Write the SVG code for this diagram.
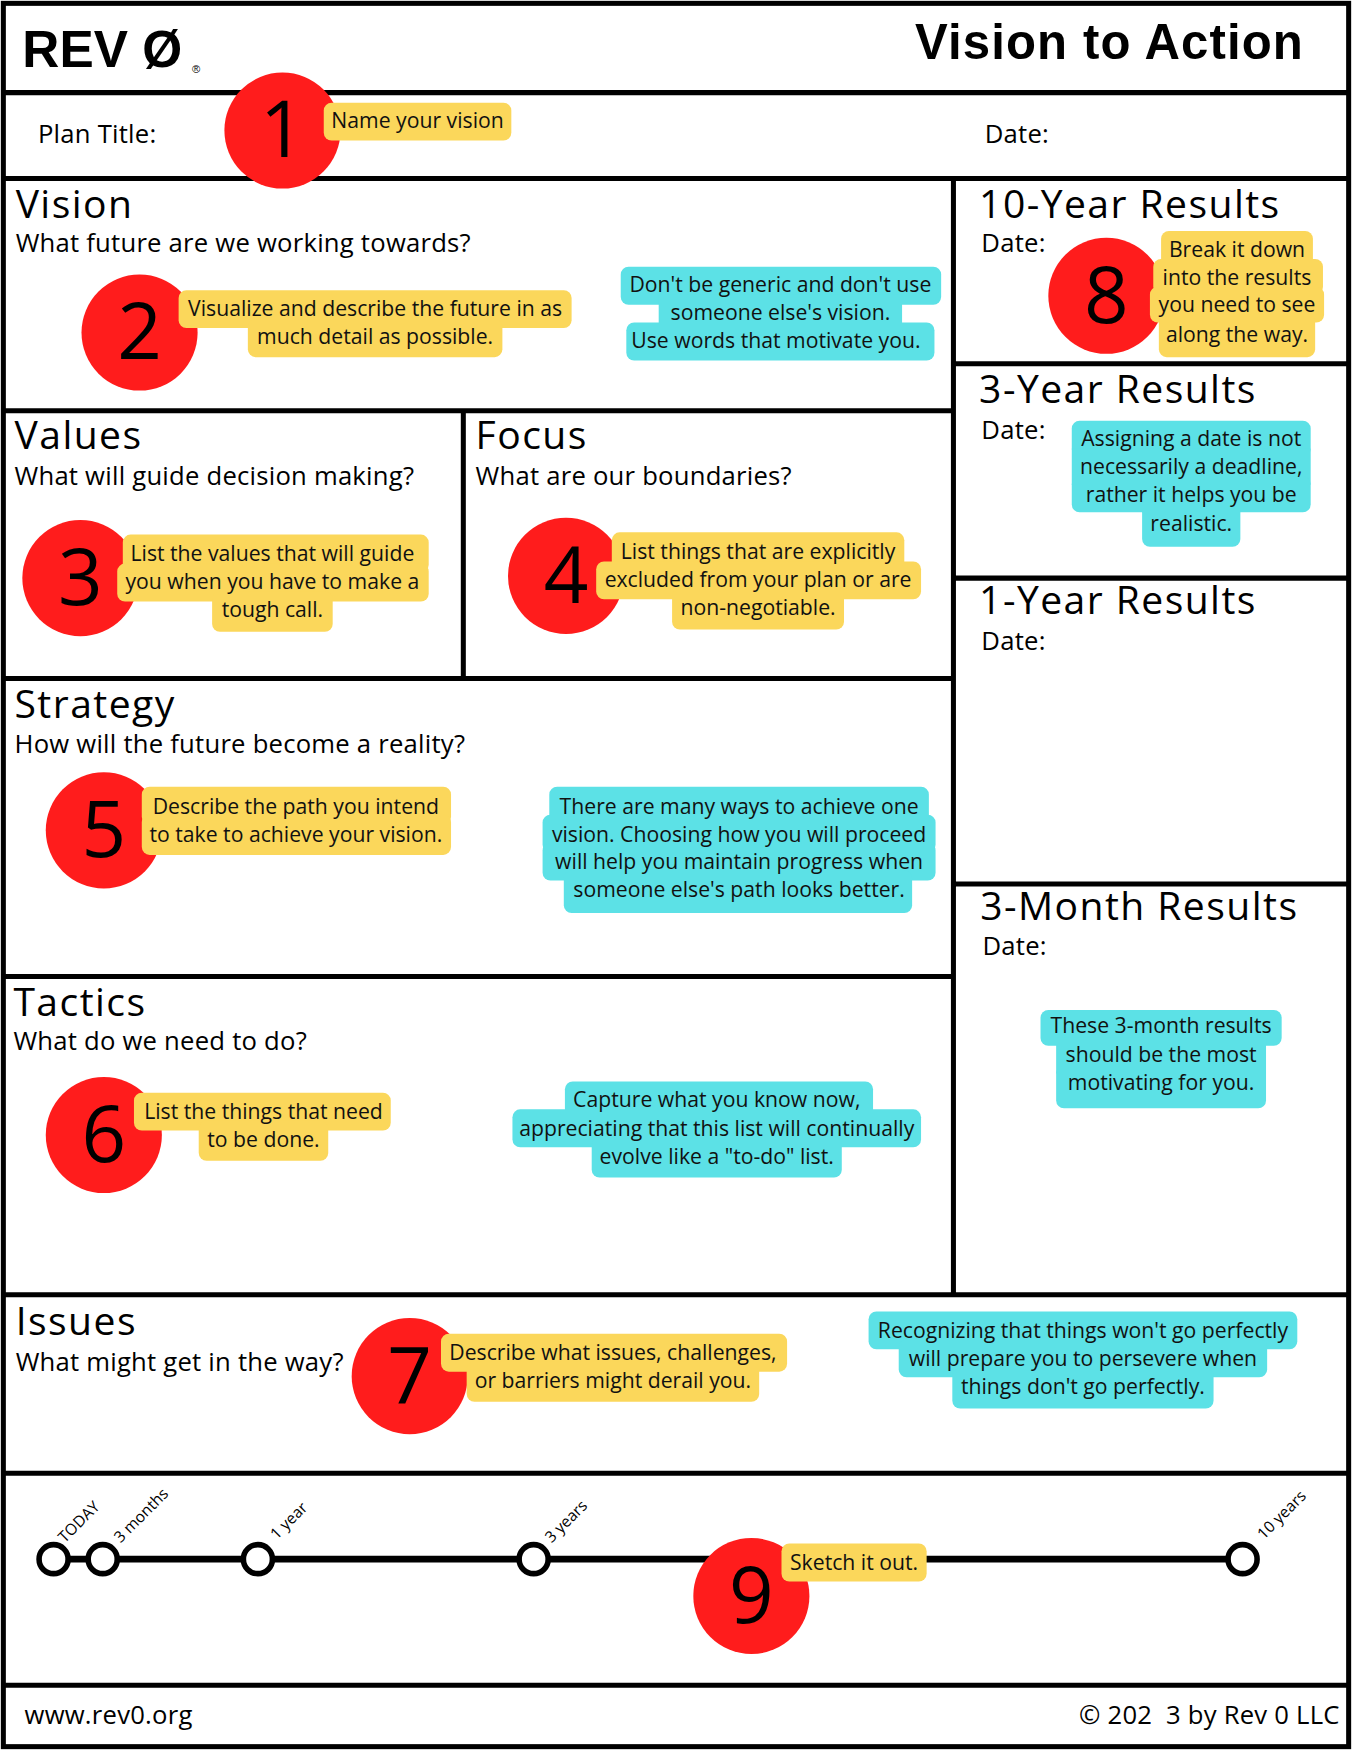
<svg xmlns="http://www.w3.org/2000/svg" width="1352" height="1750" viewBox="0 0 1352 1750">
<style>
.ln{stroke:#000;stroke-width:4.5;fill:none}
.t{font-family:"Open Sans",sans-serif;font-size:35px;fill:#000;letter-spacing:1.3px}
.s{font-family:"Open Sans",sans-serif;font-size:23px;fill:#000;letter-spacing:0.2px}
.y{fill:#fbd75b}
.c{fill:#5ce1e6}
.l{font-family:"Open Sans",sans-serif;font-size:19px;fill:#111;text-anchor:middle}
.rc{fill:#ff1c1c}
.n{font-family:"Open Sans",sans-serif;font-size:70px;fill:#000;text-anchor:middle}
.tk{font-family:"Open Sans",sans-serif;font-size:14px;fill:#000}
.dot{fill:#fff;stroke:#000;stroke-width:5}
</style>
<rect width="1352" height="1750" fill="#fff"/>
<g transform="scale(1.11643,1.11607)">
<g id="frame">
<rect x="3" y="3" width="1205" height="1562" class="ln"/>
<path class="ln" d="M3 83H1208M3 160H1208M854 160V1160M854 326H1208M854 518H1208M854 792H1208M3 368H854M415 368V608M3 608H854M3 875H854M3 1160H1208M3 1320H1208M3 1510H1208"/>
</g>
<g id="header">
<text x="20" y="60" font-family="Liberation Sans,sans-serif" font-weight="bold" font-size="46">REV Ø</text>
<text x="172" y="65" font-family="Liberation Sans,sans-serif" font-size="10">®</text>
<text x="1168" y="53" text-anchor="end" font-family="Liberation Sans,sans-serif" font-weight="bold" font-size="44" letter-spacing="1">Vision to Action</text>
<text x="34" y="128" class="s" font-size="27">Plan Title:</text>
<text x="882" y="128" class="s" font-size="27">Date:</text>
</g>
<g id="n1"><circle cx="253" cy="117" r="52" class="rc"/><text x="253" y="141" class="n">1</text>
<rect x="290" y="92" width="168" height="34" rx="7" class="y"/><text x="374" y="115" class="l">Name your vision</text></g>
<g id="vision"><text x="14" y="195" class="t">Vision</text><text x="14" y="226" class="s">What future are we working towards?</text>
<circle cx="125" cy="298" r="52" class="rc"/><text x="125" y="322" class="n">2</text>
<rect x="160" y="260" width="352" height="34" rx="7" class="y"/><rect x="222" y="286" width="228" height="34" rx="7" class="y"/>
<text x="336" y="283" class="l">Visualize and describe the future in as</text><text x="336" y="308" class="l">much detail as possible.</text>
<rect x="556" y="239" width="287" height="34" rx="7" class="c"/><rect x="590" y="264" width="218" height="30" class="c"/><rect x="561" y="289" width="276" height="34" rx="7" class="c"/>
<text x="699" y="262" class="l">Don't be generic and don't use</text><text x="699" y="287" class="l">someone else's vision.</text><text x="695" y="312" class="l">Use words that motivate you.</text></g>
<g id="values"><text x="13" y="402" class="t">Values</text><text x="13" y="435" class="s">What will guide decision making?</text>
<circle cx="72" cy="518" r="52" class="rc"/><text x="72" y="542" class="n">3</text>
<rect x="110" y="479" width="274" height="34" rx="7" class="y"/><rect x="105" y="505" width="279" height="34" rx="7" class="y"/><rect x="190" y="530" width="108" height="36" rx="7" class="y"/>
<text x="244" y="503" class="l">List the values that will guide</text><text x="244" y="528" class="l">you when you have to make a</text><text x="244" y="553" class="l">tough call.</text></g>
<g id="focus"><text x="426" y="402" class="t">Focus</text><text x="426" y="435" class="s">What are our boundaries?</text>
<circle cx="507" cy="516" r="52" class="rc"/><text x="507" y="540" class="n">4</text>
<rect x="548" y="477" width="262" height="34" rx="7" class="y"/><rect x="534" y="503" width="291" height="34" rx="7" class="y"/><rect x="602" y="528" width="154" height="36" rx="7" class="y"/>
<text x="679" y="501" class="l">List things that are explicitly</text><text x="679" y="526" class="l">excluded from your plan or are</text><text x="679" y="551" class="l">non-negotiable.</text></g>
<g id="strategy"><text x="13" y="643" class="t">Strategy</text><text x="13" y="675" class="s">How will the future become a reality?</text>
<circle cx="93" cy="744" r="52" class="rc"/><text x="93" y="768" class="n">5</text>
<rect x="127" y="705" width="277" height="34" rx="7" class="y"/><rect x="127" y="730" width="277" height="36" rx="7" class="y"/>
<text x="265" y="729" class="l">Describe the path you intend</text><text x="265" y="754" class="l">to take to achieve your vision.</text>
<rect x="492" y="705" width="340" height="34" rx="7" class="c"/><rect x="486" y="730" width="352" height="34" rx="7" class="c"/><rect x="486" y="755" width="352" height="34" rx="7" class="c"/><rect x="505" y="780" width="312" height="38" rx="7" class="c"/>
<text x="662" y="729" class="l">There are many ways to achieve one</text><text x="662" y="754" class="l">vision. Choosing how you will proceed</text><text x="662" y="779" class="l">will help you maintain progress when</text><text x="662" y="804" class="l">someone else's path looks better.</text></g>
<g id="tactics"><text x="12" y="910" class="t">Tactics</text><text x="12" y="941" class="s">What do we need to do?</text>
<circle cx="93" cy="1017" r="52" class="rc"/><text x="93" y="1041" class="n">6</text>
<rect x="120" y="979" width="230" height="34" rx="7" class="y"/><rect x="178" y="1004" width="116" height="36" rx="7" class="y"/>
<text x="236" y="1003" class="l">List the things that need</text><text x="236" y="1028" class="l">to be done.</text>
<rect x="506" y="969" width="276" height="34" rx="7" class="c"/><rect x="459" y="994" width="366" height="34" rx="7" class="c"/><rect x="530" y="1019" width="224" height="36" rx="7" class="c"/>
<text x="642" y="992" class="l">Capture what you know now,</text><text x="642" y="1018" class="l">appreciating that this list will continually</text><text x="642" y="1043" class="l">evolve like a "to-do" list.</text></g>
<g id="issues"><text x="14" y="1196" class="t">Issues</text><text x="14" y="1228" class="s">What might get in the way?</text>
<circle cx="367" cy="1233" r="52" class="rc"/><text x="367" y="1257" class="n">7</text>
<rect x="395" y="1195" width="310" height="34" rx="7" class="y"/><rect x="418" y="1220" width="262" height="36" rx="7" class="y"/>
<text x="549" y="1219" class="l">Describe what issues, challenges,</text><text x="549" y="1244" class="l">or barriers might derail you.</text>
<rect x="778" y="1175" width="384" height="34" rx="7" class="c"/><rect x="805" y="1200" width="330" height="34" rx="7" class="c"/><rect x="853" y="1226" width="234" height="36" rx="7" class="c"/>
<text x="970" y="1199" class="l">Recognizing that things won't go perfectly</text><text x="970" y="1224" class="l">will prepare you to persevere when</text><text x="970" y="1249" class="l">things don't go perfectly.</text></g>
<g id="r10"><text x="877" y="195" class="t">10-Year Results</text><text x="879" y="226" class="s">Date:</text>
<circle cx="991" cy="265" r="52" class="rc"/><text x="991" y="289" class="n">8</text>
<rect x="1040" y="207" width="136" height="32" rx="7" class="y"/><rect x="1033" y="232" width="152" height="32" rx="7" class="y"/><rect x="1030" y="257" width="156" height="32" rx="7" class="y"/><rect x="1038" y="282" width="140" height="38" rx="7" class="y"/>
<text x="1108" y="230" class="l">Break it down</text><text x="1108" y="255" class="l">into the results</text><text x="1108" y="280" class="l">you need to see</text><text x="1108" y="306" class="l">along the way.</text></g>
<g id="r3"><text x="877" y="361" class="t">3-Year Results</text><text x="879" y="393" class="s">Date:</text>
<rect x="960" y="377" width="214" height="32" rx="7" class="c"/><rect x="960" y="402" width="214" height="32" class="c"/><rect x="960" y="427" width="214" height="32" rx="7" class="c"/><rect x="1023" y="452" width="88" height="38" rx="7" class="c"/>
<text x="1067" y="400" class="l">Assigning a date is not</text><text x="1067" y="425" class="l">necessarily a deadline,</text><text x="1067" y="450" class="l">rather it helps you be</text><text x="1067" y="476" class="l">realistic.</text></g>
<g id="r1"><text x="877" y="550" class="t">1-Year Results</text><text x="879" y="582" class="s">Date:</text></g>
<g id="r3m"><text x="878" y="824" class="t">3-Month Results</text><text x="880" y="856" class="s">Date:</text>
<rect x="932" y="905" width="216" height="32" rx="7" class="c"/><rect x="946" y="930" width="188" height="32" class="c"/><rect x="946" y="955" width="188" height="38" rx="7" class="c"/>
<text x="1040" y="926" class="l">These 3-month results</text><text x="1040" y="952" class="l">should be the most</text><text x="1040" y="977" class="l">motivating for you.</text></g>
<g id="timeline">
<line x1="48" y1="1397" x2="1113" y2="1397" stroke="#000" stroke-width="6"/>
<circle cx="48" cy="1397" r="13" class="dot"/><circle cx="92" cy="1397" r="13" class="dot"/><circle cx="231" cy="1397" r="13" class="dot"/><circle cx="478" cy="1397" r="13" class="dot"/><circle cx="1113" cy="1397" r="13" class="dot"/>
<text class="tk" transform="translate(58,1383) rotate(-45)">TODAY</text>
<text class="tk" transform="translate(108,1383) rotate(-45)">3 months</text>
<text class="tk" transform="translate(248,1380) rotate(-45)">1 year</text>
<text class="tk" transform="translate(494,1383) rotate(-45)">3 years</text>
<text class="tk" transform="translate(1132,1380) rotate(-45)">10 years</text>
<circle cx="673" cy="1430" r="52" class="rc"/><text x="673" y="1454" class="n">9</text>
<rect x="700" y="1383" width="130" height="34" rx="7" class="y"/><text x="765" y="1407" class="l">Sketch it out.</text>
</g>
<g id="footer">
<text x="22" y="1545" class="s" font-size="24">www.rev0.org</text>
<text x="1200" y="1545" class="s" font-size="24" text-anchor="end" xml:space="preserve">© 202  3 by Rev 0 LLC</text>
</g>
</g>
</svg>
